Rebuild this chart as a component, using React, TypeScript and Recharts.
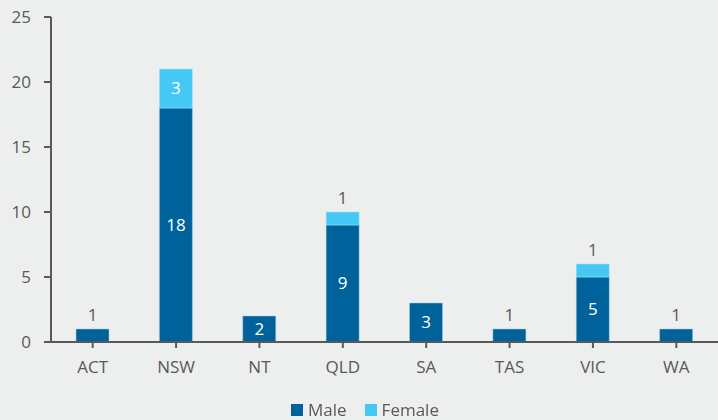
import { BarChart, Bar, XAxis, YAxis, Legend, LabelList } from 'recharts'

const states = ['ACT', 'NSW', 'NT', 'QLD', 'SA', 'TAS', 'VIC', 'WA']
const male = [1, 18, 2, 9, 3, 1, 5, 1]
const female = [0, 3, 0, 1, 0, 0, 1, 0]
const yTicks = [0, 5, 10, 15, 20, 25]

const MALE = '#00629b'
const FEMALE = '#46c8f5'
const TEXT = '#595959'
const FONT = '"Open Sans", sans-serif'

const data = states.map((state, i) => ({ state, male: male[i], female: female[i] }))

const legendItems = [
    { name: 'Male', color: MALE },
    { name: 'Female', color: FEMALE },
]

// small values sit above the bar in grey, the rest go inside in white
function renderLabel(props: any) {
    const { x, y, width, height, value } = props
    if (!value) return null
    const cx = Number(x) + Number(width) / 2
    if (value < 2) {
        return (
            <text x={cx} y={Number(y) - 8} textAnchor="middle" fill={TEXT} fontSize={17} fontFamily={FONT}>
                {value}
            </text>
        )
    }
    return (
        <text
            x={cx}
            y={Number(y) + Number(height) / 2}
            dy="0.35em"
            textAnchor="middle"
            fill="#ffffff"
            fontSize={17}
            fontFamily={FONT}
        >
            {value}
        </text>
    )
}

function renderLegend() {
    return (
        <div
            style={{
                display: 'flex',
                justifyContent: 'center',
                paddingTop: 16,
                paddingLeft: 30,
                fontFamily: FONT,
                fontSize: 17,
                color: TEXT,
                lineHeight: '20px',
            }}
        >
            {legendItems.map((item) => (
                <div key={item.name} style={{ display: 'flex', alignItems: 'center', marginRight: 18 }}>
                    <span style={{ width: 12, height: 12, background: item.color, marginRight: 5, display: 'inline-block' }} />
                    {item.name}
                </div>
            ))}
        </div>
    )
}

export default function App() {
    return (
        <div style={{ position: 'fixed', left: 0, top: 0, width: 718, height: 420, background: '#edefee' }}>
            <BarChart
                width={718}
                height={420}
                data={data}
                margin={{ top: 17, right: 0, left: 0, bottom: 0 }}
                barCategoryGap="30%"
            >
                <XAxis
                    dataKey="state"
                    height={42}
                    axisLine={{ stroke: TEXT, strokeWidth: 2 }}
                    tickLine={{ stroke: TEXT, strokeWidth: 2 }}
                    tickSize={6}
                    tickMargin={13}
                    tick={{ fill: TEXT, fontSize: 17, fontFamily: FONT }}
                />
                <YAxis
                    width={51}
                    domain={[0, 25]}
                    ticks={yTicks}
                    interval={0}
                    axisLine={{ stroke: TEXT, strokeWidth: 2 }}
                    tickLine={{ stroke: TEXT, strokeWidth: 2 }}
                    tickSize={7}
                    tickMargin={13}
                    tick={{ fill: TEXT, fontSize: 17, fontFamily: FONT }}
                />
                <Legend verticalAlign="bottom" height={36} content={renderLegend} />
                <Bar dataKey="male" name="Male" stackId="a" fill={MALE} stroke="#a9cde0" strokeWidth={0.5} isAnimationActive={false}>
                    <LabelList dataKey="male" content={renderLabel} />
                </Bar>
                <Bar dataKey="female" name="Female" stackId="a" fill={FEMALE} stroke="#a9e4f8" strokeWidth={0.5} isAnimationActive={false}>
                    <LabelList dataKey="female" content={renderLabel} />
                </Bar>
            </BarChart>
        </div>
    )
}
